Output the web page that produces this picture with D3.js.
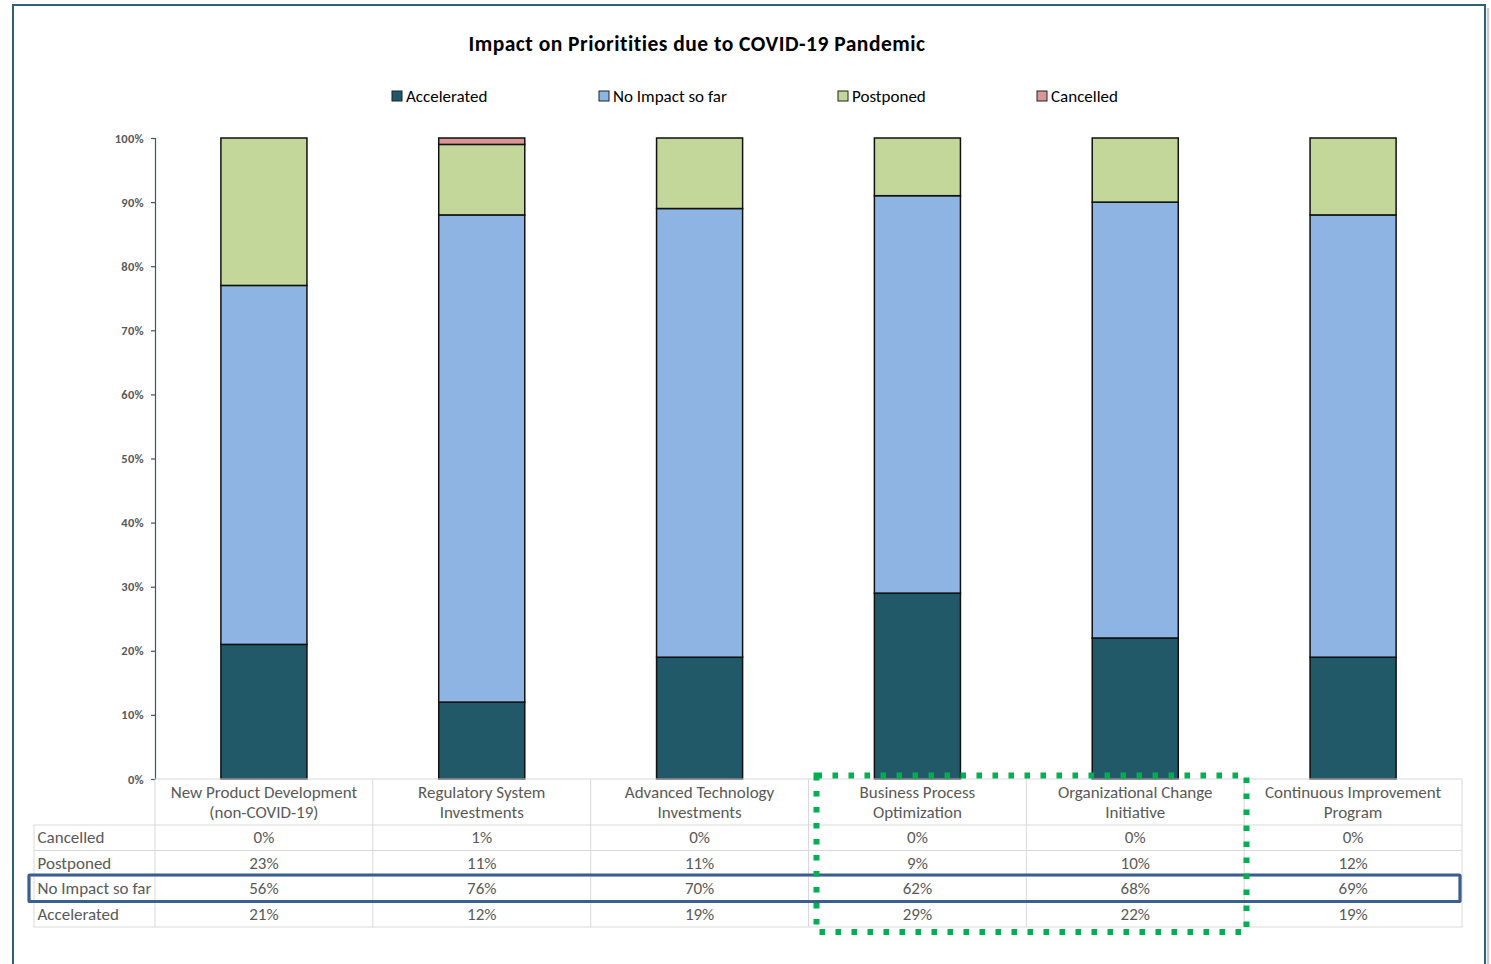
<!DOCTYPE html>
<html><head><meta charset="utf-8">
<script src="https://cdn.jsdelivr.net/npm/d3@7"></script>
<style>body{margin:0;background:#fff;overflow:hidden}</style>
</head><body>
<svg id="chart" width="1491" height="964"></svg>
<script>
// ---- data ----
const categories = [
  "New Product Development\n(non-COVID-19)",
  "Regulatory System\nInvestments",
  "Advanced Technology\nInvestments",
  "Business Process\nOptimization",
  "Organizational Change\nInitiative",
  "Continuous Improvement\nProgram"
];
const seriesNames = ["Accelerated", "No Impact so far", "Postponed", "Cancelled"];
const accelerated = [21, 12, 19, 29, 22, 19];
const noImpact    = [56, 76, 70, 62, 68, 69];
const postponed   = [23, 11, 11, 9, 10, 12];
const cancelled   = [0, 1, 0, 0, 0, 0];
const yTicks = [0, 10, 20, 30, 40, 50, 60, 70, 80, 90, 100];
const title = "Impact on Prioritities due to COVID-19 Pandemic";

const seriesValues = {
  "Accelerated": accelerated,
  "No Impact so far": noImpact,
  "Postponed": postponed,
  "Cancelled": cancelled
};
const colors = {
  "Accelerated": "#215968",
  "No Impact so far": "#8eb4e3",
  "Postponed": "#c4d79b",
  "Cancelled": "#da9694"
};
const tableOrder = ["Cancelled", "Postponed", "No Impact so far", "Accelerated"];

const FONT = "Carlito, Lato, 'Liberation Sans', sans-serif";
const svg = d3.select("#chart");

// outer frame
svg.append("line").attr("x1", 1488).attr("x2", 1488).attr("y1", 8).attr("y2", 964)
  .attr("stroke", "#c8ccce").attr("stroke-width", 2.5);
svg.append("rect").attr("x", 13).attr("y", 5).attr("width", 1472).attr("height", 980)
  .attr("fill", "#fff").attr("stroke", "#2f6373").attr("stroke-width", 2);

// title
svg.append("text").attr("x", 697).attr("y", 50.5).attr("text-anchor", "middle")
  .attr("font-family", FONT).attr("font-weight", "bold").attr("font-size", 21.5)
  .attr("letter-spacing", 0.5).attr("fill", "#000").text(title);

// legend
const legendX = [392, 599, 838, 1037];
const lg = svg.append("g").selectAll("g").data(seriesNames).join("g")
  .attr("transform", (d, i) => `translate(${legendX[i]},91)`);
lg.append("rect").attr("width", 10).attr("height", 10)
  .attr("fill", d => colors[d]).attr("stroke", "#222").attr("stroke-width", 1);
lg.append("text").attr("x", 14).attr("y", 10.5).attr("font-family", FONT)
  .attr("font-size", 17).attr("fill", "#000").text(d => d);

// scales
const x = d3.scaleBand().domain(categories).range([155, 1462]).padding(0);
const y = d3.scaleLinear().domain([0, 100]).range([779, 138]);
const barW = x.bandwidth() * 0.395;

// stacked bars
const rows = categories.map((c, i) => {
  const o = { cat: c };
  seriesNames.forEach(s => o[s] = seriesValues[s][i]);
  return o;
});
const stacked = d3.stack().keys(seriesNames)(rows);
svg.append("g").selectAll("g").data(stacked).join("g")
  .attr("fill", d => colors[d.key])
  .selectAll("rect").data(d => d.filter(p => p[1] - p[0] > 0)).join("rect")
  .attr("x", d => x(d.data.cat) + x.bandwidth() / 2 - barW / 2)
  .attr("width", barW)
  .attr("y", d => y(d[1]))
  .attr("height", d => y(d[0]) - y(d[1]))
  .attr("stroke", "#111").attr("stroke-width", 1.5);

// y axis
const yAxis = d3.axisLeft(y).tickValues(yTicks).tickFormat(d => d + "%").tickSize(4).tickPadding(7);
const ga = svg.append("g").attr("transform", "translate(155,0)").call(yAxis);
ga.select(".domain").attr("stroke", "#2f5d6c").attr("stroke-width", 1.2);
ga.selectAll(".tick line").attr("stroke", "#2f5d6c").attr("stroke-width", 1.2);
ga.selectAll(".tick text").attr("font-family", FONT).attr("font-weight", "bold")
  .attr("font-size", 12.5).attr("letter-spacing", 0.3).attr("fill", "#595959");

// data table
const tableRowsY = [825, 850.5, 876, 901.5, 927];
const grid = "#d9d9d9";
const tg = svg.append("g");
tg.append("line").attr("x1", 155).attr("x2", 1462).attr("y1", 779).attr("y2", 779).attr("stroke", grid);
tableRowsY.forEach(yy => tg.append("line").attr("x1", 34).attr("x2", 1462)
  .attr("y1", yy).attr("y2", yy).attr("stroke", grid));
tg.append("line").attr("x1", 34).attr("x2", 34).attr("y1", 825).attr("y2", 927).attr("stroke", grid);
categories.forEach(c => {
  tg.append("line").attr("x1", x(c)).attr("x2", x(c)).attr("y1", 779).attr("y2", 927).attr("stroke", grid);
});
tg.append("line").attr("x1", 1462).attr("x2", 1462).attr("y1", 779).attr("y2", 927).attr("stroke", grid);

const tFont = 17;
categories.forEach(c => {
  const lines = c.split("\n");
  lines.forEach((ln, k) => {
    tg.append("text").attr("x", x(c) + x.bandwidth() / 2).attr("y", 797.5 + k * 20.5)
      .attr("text-anchor", "middle").attr("font-family", FONT).attr("font-size", tFont)
      .attr("fill", "#595959").text(ln);
  });
});
tableOrder.forEach((s, r) => {
  const base = tableRowsY[r] + 18;
  tg.append("text").attr("x", 37.5).attr("y", base).attr("font-family", FONT)
    .attr("font-size", tFont).attr("fill", "#595959").text(s);
  seriesValues[s].forEach((v, i) => {
    tg.append("text").attr("x", x(categories[i]) + x.bandwidth() / 2).attr("y", base)
      .attr("text-anchor", "middle").attr("font-family", FONT).attr("font-size", tFont)
      .attr("fill", "#595959").text(v + "%");
  });
});

// highlight boxes
svg.append("rect").attr("x", 29).attr("y", 875).attr("width", 1431).attr("height", 26.5)
  .attr("fill", "none").attr("stroke", "#3a5f8e").attr("stroke-width", 3.2).attr("rx", 1);
svg.append("rect").attr("x", 816.5).attr("y", 775.5).attr("width", 430).attr("height", 156.5)
  .attr("fill", "none").attr("stroke", "#00b050").attr("stroke-width", 6)
  .attr("stroke-dasharray", "5.5,10.5");
</script>
</body></html>
